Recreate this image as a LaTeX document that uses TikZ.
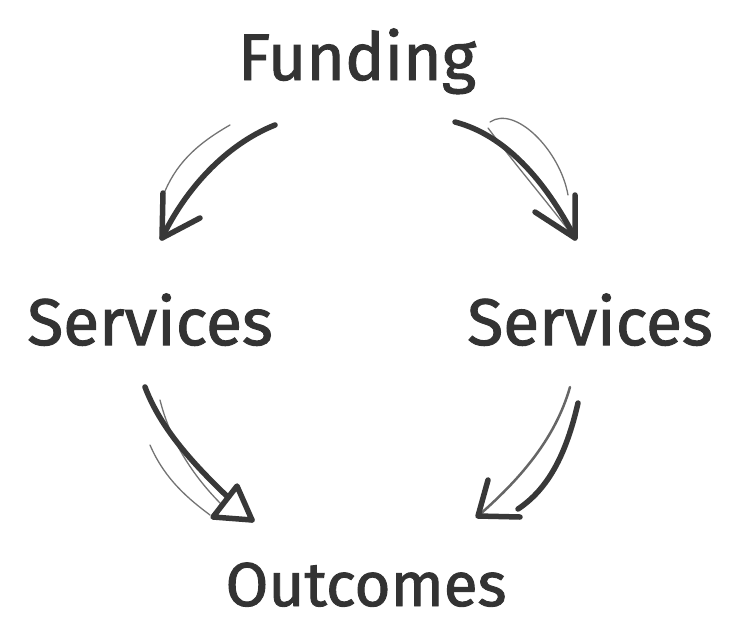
\documentclass[tikz,border=0pt]{standalone}
\usepackage{fontspec}
\setmainfont{Fira Sans}[FakeBold=1.5,AutoFakeBold=1.5]
\usepackage{tikz}
\tikzset{ink/.style={line width=5.5pt,color=black!78,line cap=round,line join=round},
  pencil/.style={line width=1.3pt,color=black!55,line cap=round},
  word/.style={anchor=base,inner sep=0pt,text=black!80,font=\fontsize{66}{70}\selectfont\bfseries}}

\begin{document}
\begin{tikzpicture}[x=1pt,y=-1pt]
    \useasboundingbox (0,0) rectangle (730,621);

    \node [word] (funding)   at (357,80)  {Funding};
    \node [word] (servleft)  at (150,345) {Services};
    \node [word] (servright) at (590,345) {Services};
    \node [word,font=\fontsize{62}{66}\selectfont\bfseries] (outcomes) at (366,606) {Outcomes};

    \coordinate (tl-s) at (275,125); \coordinate (tl-e) at (162,238);
    \coordinate (tr-s) at (455,122); \coordinate (tr-e) at (575,238);
    \coordinate (bl-s) at (145,387); \coordinate (bl-e) at (252,520);
    \coordinate (br-s) at (570,387); \coordinate (br-e) at (478,516);

    % funding -> left services
    \draw [pencil] (230,125) .. controls +(-35,20) and +(12,-31) .. (163,196);
    \draw [ink] (tl-s) .. controls +(-50,20) and +(23,-48) .. (tl-e);
    \draw [ink] (tl-e) ++(1,-45) -- (tl-e) -- ++(38,-20);

    % funding -> right services
    \draw [pencil] (490,122) .. controls +(25,-17) and +(-8,-45) .. (568,195);
    \draw [pencil] (488,128) .. controls +(30,40) and +(-35,-45) .. (570,232);
    \draw [ink] (tr-s) .. controls +(50,13) and +(-30,-58) .. (tr-e);
    \draw [ink] (tr-e) ++(0,-43) -- (tr-e) -- ++(-40,-26);

    % left services -> outcomes
    \draw [pencil] (160,400) .. controls +(10,40) and +(-30,-30) .. (222,505);
    \draw [pencil] (150,445) .. controls +(15,35) and +(-20,-15) .. (210,515);
    \draw [ink] (bl-s) .. controls +(20,53) and +(-40,-38) .. (bl-e);
    \draw [ink,fill=white] (bl-e) -- ++(-39,-3) -- ++(24,-31) -- cycle;

    % right services -> outcomes
    \draw [pencil,line width=2.5pt,black!60] (br-s) .. controls +(-15,53) and +(40,-35) .. (br-e);
    \draw [ink] (578,403) .. controls +(-12,52) and +(30,-20) .. (518,509);
    \draw [ink] (br-e) ++(10,-36) -- (br-e) -- ++(42,1);
\end{tikzpicture}
\end{document}
